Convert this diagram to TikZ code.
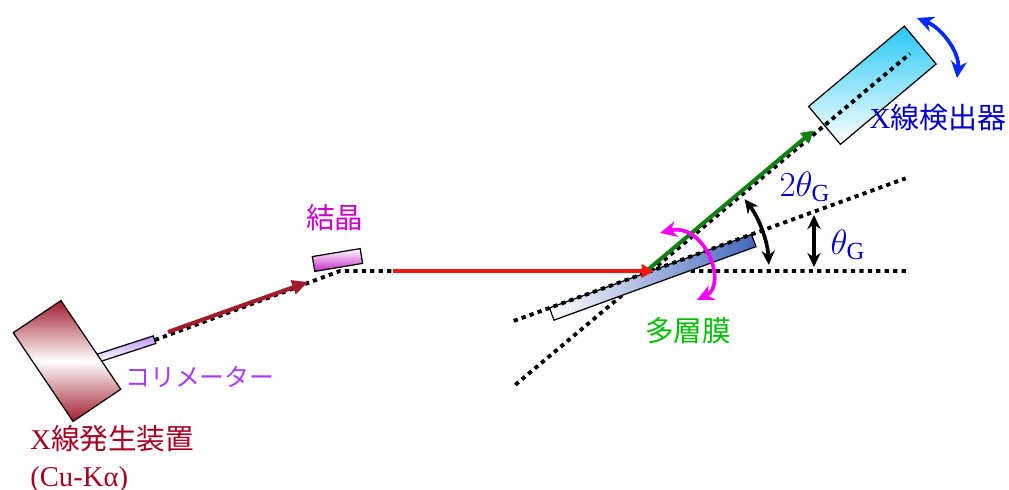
\RequirePackage{fix-cm}
\documentclass[tikz,border=0pt]{standalone}
\usepackage{fontspec}
\setmainfont{Liberation Serif}
\newfontfamily\jp{Noto Sans CJK JP}
\usetikzlibrary{arrows.meta,calc}

\definecolor{srcred}{RGB}{160,28,45}
\definecolor{srctext}{RGB}{165,0,33}
\definecolor{collviolet}{RGB}{190,150,250}
\definecolor{colltext}{RGB}{165,60,255}
\definecolor{xtalmag}{RGB}{200,40,200}
\definecolor{xtaltext}{RGB}{204,0,204}
\definecolor{mlblue}{RGB}{68,102,187}
\definecolor{mltext}{RGB}{0,190,0}
\definecolor{detcyan}{RGB}{40,200,245}
\definecolor{dettext}{RGB}{0,0,204}
\definecolor{rayred}{RGB}{255,20,20}
\definecolor{raygreen}{RGB}{20,125,20}
\definecolor{swingblue}{RGB}{0,40,255}
\definecolor{swingmag}{RGB}{245,0,245}

\begin{document}
\begin{tikzpicture}
  [x=0.02cm, y=0.02cm,
     box/.style={draw,
                 line width=0.7pt,
                 inner sep=0pt},
     srcbox/.style={box,
                 minimum width=1.15cm,
                 minimum height=2.14cm,
                 top color=srcred, bottom color=srcred, middle color=white},
     collbox/.style={box,
                 minimum width=1.2cm,
                 minimum height=0.16cm,
                 top color=collviolet, bottom color=white},
     xtalbox/.style={box,
                 minimum width=0.97cm,
                 minimum height=0.3cm,
                 top color=white, bottom color=xtalmag},
     mlbox/.style={box,
                 minimum width=4.3cm,
                 minimum height=0.26cm,
                 left color=white, right color=mlblue},
     detbox/.style={box,
                 minimum width=2.5cm,
                 minimum height=0.99cm,
                 top color=detcyan, bottom color=white},
     beam/.style={line width=2.2pt,
                 dash pattern=on 2.4pt off 2.4pt},
     ray/.style={line width=2.3pt,
                 -{Triangle[length=7pt,width=7.5pt]}},
     swing/.style={line width=2.1pt,
                 {Stealth[length=9.5pt,width=9pt]}-{Stealth[length=9.5pt,width=9pt]}},
     angarrow/.style={line width=2.1pt,
                 {Stealth[length=8pt,width=7.5pt]}-{Stealth[length=8pt,width=7.5pt]}},
     lab/.style={inner sep=0pt,
                 font=\jp\fontsize{16.3}{20.5}\selectfont}
  ]
    \useasboundingbox (-651,-219) rectangle (358,271);

    % reflection point on the multilayer
    \coordinate (O) at (0,0);
    \coordinate (collend) at (-496,-69);
    \coordinate (C) at (-311,0);
    \coordinate (hend) at (257,0);
    \coordinate (mlA) at (200:146);
    \coordinate (mlB) at (20:271);
    \coordinate (dtA) at (220:177);
    \coordinate (dtB) at (40:338);

    % detector sits on the 2theta line
    \node[detbox, rotate=40] (det) at (40:289) {};

    \draw[beam] (collend) -- (C) -- (hend);
    \draw[beam] (dtA) -- (dtB);

    \node[collbox, rotate=18] (coll) at (-525,-78) {};
    \node[srcbox, rotate=34] (src) at (-584,-90) {};
    \node[xtalbox, rotate=9.5] (xtal) at (-313.5,11) {};
    \node[mlbox, rotate=20] (ml) at (1.75,-6.3) {};

    \draw[beam] (mlA) -- (mlB);

    % rays
    \coordinate (srcray1) at (-483,-61);
    \coordinate (srcray2) at (-343,-11);
    \coordinate (redstart) at (-258,0);
    \coordinate (redtip) at (3,0);
    \coordinate (grstart) at ($(O)+(130:3)$);
    \coordinate (grtip) at ($(40:215)+(130:3)$);
    \draw[ray, srcred, -{Triangle[length=9pt,width=8pt]}] (srcray1) -- (srcray2);
    \draw[ray, rayred] (redstart) -- (redtip);
    \draw[ray, raygreen] (grstart) -- (grtip);

    % rotations of multilayer and detector
    \coordinate (mlrot1) at (9,38);
    \coordinate (mlrot2) at (46,-29);
    \draw[swing, swingmag] (mlrot1) .. controls (54,49) and (77,-14) .. (mlrot2);
    \coordinate (detrot1) at (266,253);
    \coordinate (detrot2) at (306,193);
    \draw[swing, swingblue] (detrot1) .. controls (291,243) and (309,218) .. (detrot2);

    % angles
    \coordinate (th1) at (163,4);
    \coordinate (th2) at (163,56);
    \draw[angarrow] (th1) -- (th2);
    \coordinate (tt1) at (3:118);
    \draw[angarrow] (tt1) arc[start angle=3, end angle=37.5, radius=118];

    % labels
    \node[lab, text=srctext, anchor=west, align=left,
          font=\fontsize{16.3}{20.5}\selectfont] (srclab) at (-621,-188)
          {X{\jp 線発生装置}\\(Cu-Kα)};
    \node[lab, text=colltext, font=\jp\fontsize{14.2}{16}\selectfont] (colllab) at (-451,-106) {コリメーター};
    \node[lab, text=xtaltext] (xtallab) at (-316,53) {結晶};
    \node[lab, text=mltext] (mllab) at (37,-60) {多層膜};
    \node[lab, text=dettext, font=\fontsize{16.5}{20}\selectfont] (detlab) at (287,153) {X{\jp 線検出器}};
    \node[lab, text=dettext, font=\fontsize{20}{22}\selectfont] (ttlab) at (154,84) {$2\theta_{\mathrm{G}}$};
    \node[lab, text=dettext, font=\fontsize{20}{22}\selectfont] (thlab) at (197,26) {$\theta_{\mathrm{G}}$};
\end{tikzpicture}
\end{document}
